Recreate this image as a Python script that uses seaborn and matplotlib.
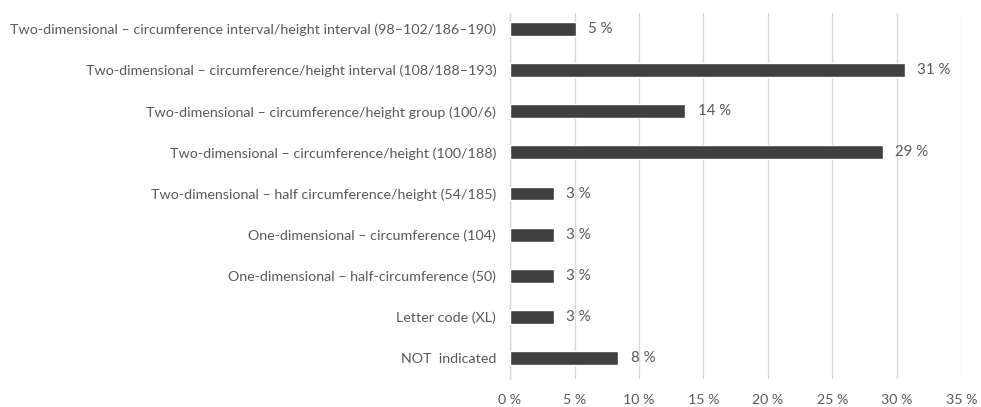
import matplotlib
matplotlib.use("Agg")
import matplotlib.pyplot as plt
import pandas as pd
import seaborn as sns

categories = [
    "Two-dimensional \u2013 circumference interval/height interval (98\u2013102/186\u2013190)",
    "Two-dimensional \u2013 circumference/height interval (108/188\u2013193)",
    "Two-dimensional \u2013 circumference/height group (100/6)",
    "Two-dimensional \u2013 circumference/height (100/188)",
    "Two-dimensional \u2013 half circumference/height (54/185)",
    "One-dimensional \u2013 circumference (104)",
    "One-dimensional \u2013 half-circumference (50)",
    "Letter code (XL)",
    "NOT  indicated",
]
shares = [5.1, 30.6, 13.6, 28.9, 3.4, 3.4, 3.4, 3.4, 8.4]
x_ticks = [0, 5, 10, 15, 20, 25, 30, 35]

df = pd.DataFrame({"category": categories, "share": shares})

sns.set_style("white")
plt.rcParams["font.family"] = ["Lato", "DejaVu Sans"]

TEXT = "#595959"
fig = plt.figure(figsize=(9.81, 4.07), dpi=100)
ax = fig.add_axes([0.5199, 0.070, 0.4601, 0.899])

sns.barplot(data=df, y="category", x="share", orient="h", color="#404040",
            width=0.34, saturation=1, ax=ax, zorder=3)

ax.set_xlim(0, 35)
ax.set_ylim(8.5, -0.4)
ax.set_xticks(x_ticks)
ax.set_xticklabels([f"{t} %" for t in x_ticks])
ax.xaxis.grid(True, color="#d9d9d9", linewidth=1.0, zorder=0)
ax.yaxis.grid(False)
for s in ["top", "right", "bottom"]:
    ax.spines[s].set_visible(False)
ax.spines["left"].set_color("#d9d9d9")
ax.spines["left"].set_linewidth(1.0)
ax.set_xlabel("")
ax.set_ylabel("")
ax.tick_params(axis="both", length=0, colors=TEXT)
ax.tick_params(axis="y", pad=10, labelsize=10.3)
ax.tick_params(axis="x", pad=11, labelsize=10.2)

for i, v in enumerate(shares):
    ax.annotate(f"{v:.0f} %", xy=(v, i), xytext=(9, 0), textcoords="offset points",
                ha="left", va="center", color=TEXT, fontsize=10.8)

fig.savefig("out.png", dpi=100)
